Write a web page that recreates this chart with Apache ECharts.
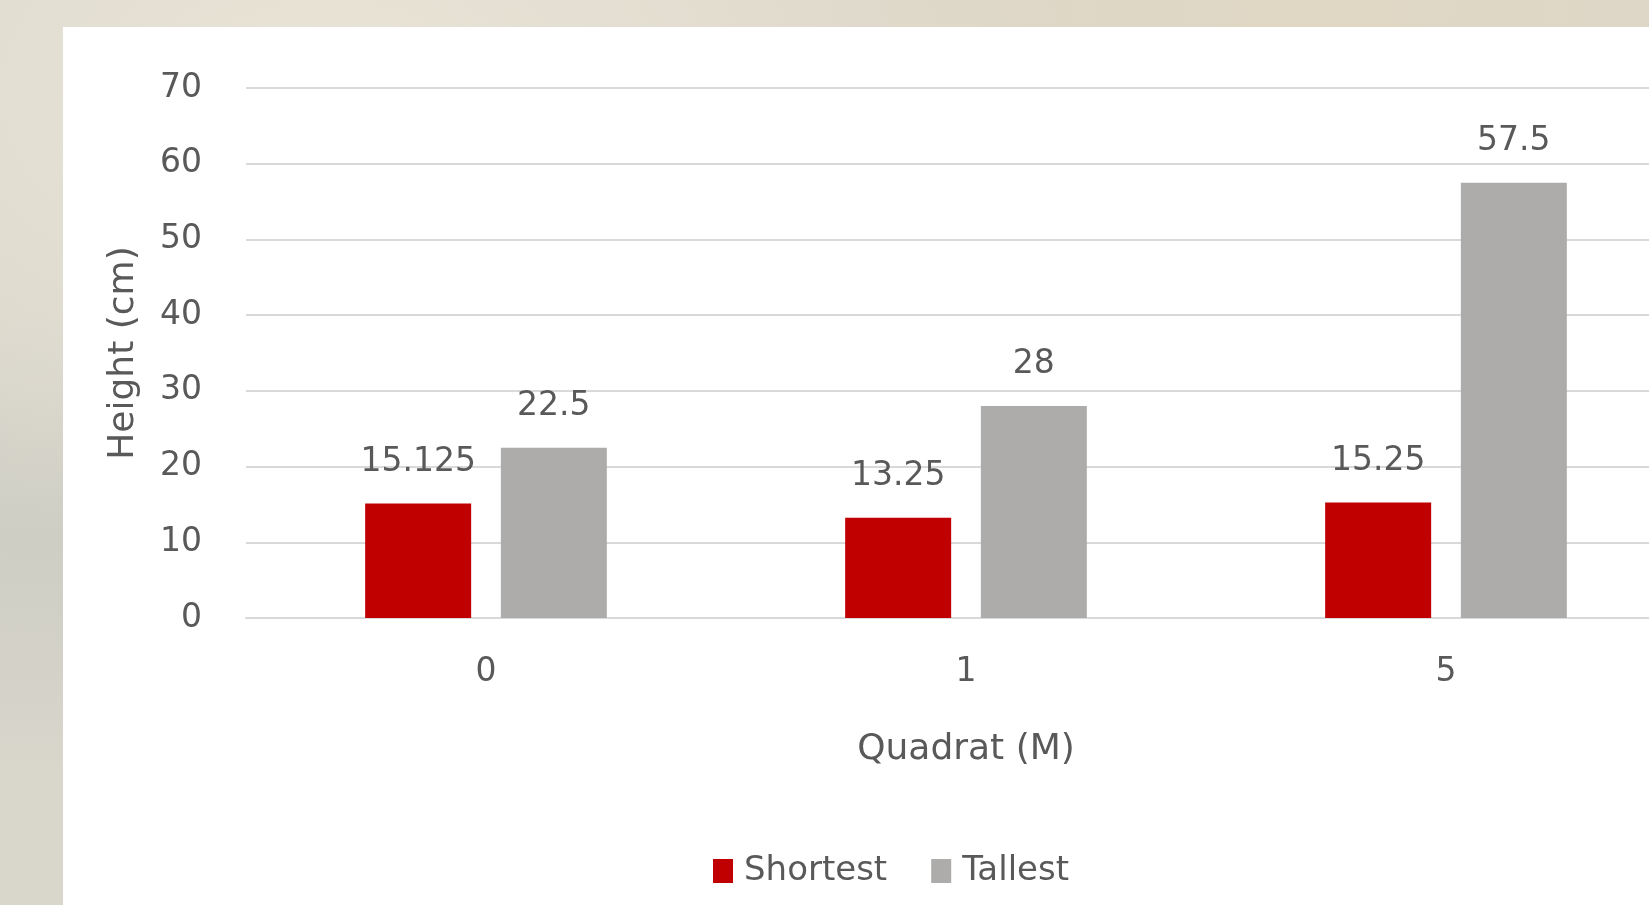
<!DOCTYPE html>
<html>
<head>
<meta charset="utf-8">
<script src="https://cdn.jsdelivr.net/npm/echarts@6/dist/echarts.min.js"></script>
<style>
  html, body { margin: 0; padding: 0; }
  body {
    width: 1649px; height: 905px; overflow: hidden; position: relative;
    background:
      radial-gradient(ellipse at 20% 10%, rgba(235,230,215,0.9) 0%, rgba(235,230,215,0) 40%),
      radial-gradient(ellipse at 80% 0%, rgba(225,215,195,0.9) 0%, rgba(225,215,195,0) 45%),
      radial-gradient(ellipse at 2% 60%, rgba(205,205,195,0.9) 0%, rgba(205,205,195,0) 30%),
      #d9d6cc;
  }
  #panel { position: absolute; left: 63px; top: 27px; right: 0; bottom: 0; background: #fff; }
  #chart { position: absolute; left: 0; top: 0; width: 1649px; height: 905px; }
</style>
</head>
<body>
<div id="panel"></div>
<div id="chart"></div>
<script>
// quadrat distance (m) and plant heights (cm)
var quadrats = ['0', '1', '5']
var shortest = [15.125, 13.25, 15.25]
var tallest = [22.5, 28, 57.5]

var textColor = '#595959'
var font = '"DejaVu Sans", sans-serif'
var size = 33
var titleSize = 36

var chart = echarts.init(document.getElementById('chart'))
chart.setOption({
  backgroundColor: 'transparent',
  textStyle: { fontFamily: font, color: textColor },
  legend: {
    left: 713,
    top: 854,
    padding: 0,
    icon: 'rect',
    itemWidth: 20,
    itemHeight: 24,
    itemGap: 44,
    textStyle: { fontFamily: font, fontSize: 34, color: textColor, padding: [0, 0, 0, 6] },
    data: ['Shortest', 'Tallest']
  },
  grid: {
    left: 246,
    top: 88,
    width: 1440,
    height: 530,
    containLabel: false,
    outerBoundsMode: 'none'
  },
  xAxis: {
    type: 'category',
    data: quadrats,
    name: 'Quadrat (M)',
    nameLocation: 'middle',
    nameGap: 114,
    nameTextStyle: { fontFamily: font, fontSize: titleSize, color: textColor },
    axisLine: { lineStyle: { color: '#d9d9d9', width: 2 } },
    axisTick: { show: false },
    axisLabel: { margin: 38, fontFamily: font, fontSize: size, color: textColor }
  },
  yAxis: {
    type: 'value',
    min: 0,
    max: 70,
    interval: 10,
    name: 'Height (cm)',
    nameLocation: 'middle',
    nameGap: 104,
    nameTextStyle: { fontFamily: font, fontSize: titleSize, color: textColor },
    axisLine: { show: false },
    axisTick: { show: false },
    axisLabel: { margin: 44, fontFamily: font, fontSize: size, color: textColor },
    splitLine: { lineStyle: { color: '#d9d9d9', width: 2 } }
  },
  series: [
    {
      name: 'Shortest',
      type: 'bar',
      data: shortest,
      barWidth: 106,
      barGap: '28%',
      itemStyle: { color: '#c00000' },
      label: { show: true, position: 'top', distance: 25, fontFamily: font, fontSize: size, color: textColor }
    },
    {
      name: 'Tallest',
      type: 'bar',
      data: tallest,
      barWidth: 106,
      barGap: '28%',
      itemStyle: { color: '#aeabab' },
      label: { show: true, position: 'top', distance: 25, fontFamily: font, fontSize: size, color: textColor }
    }
  ]
})
</script>
</body>
</html>
